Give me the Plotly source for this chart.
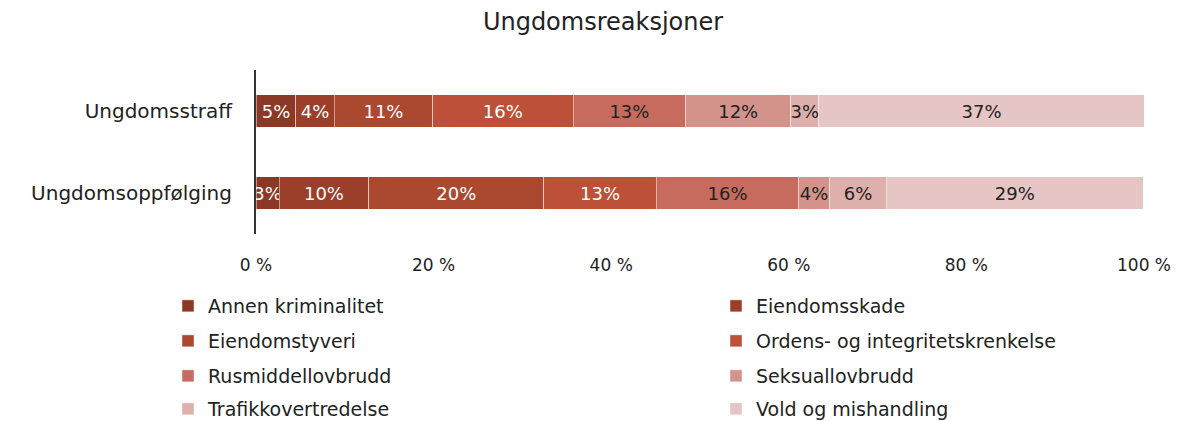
import plotly.graph_objects as go

categories = ["Ungdomsstraff", "Ungdomsoppfølging"]
series_names = ["Annen kriminalitet", "Eiendomsskade", "Eiendomstyveri",
                "Ordens- og integritetskrenkelse", "Rusmiddellovbrudd",
                "Seksuallovbrudd", "Trafikkovertredelse", "Vold og mishandling"]
annen = [4.5, 2.6]
eiendomsskade = [4.3, 10.1]
eiendomstyveri = [11.1, 19.7]
ordens = [15.8, 12.7]
rusmiddel = [12.7, 16.0]
seksual = [11.8, 3.5]
trafikk = [3.2, 6.4]
vold = [36.6, 28.9]
labels = [["5%", "3%"], ["4%", "10%"], ["11%", "20%"], ["16%", "13%"],
          ["13%", "16%"], ["12%", "4%"], ["3%", "6%"], ["37%", "29%"]]
tick_vals = [0, 20, 40, 60, 80, 100]
tick_text = ["0 %", "20 %", "40 %", "60 %", "80 %", "100 %"]

values = [annen, eiendomsskade, eiendomstyveri, ordens, rusmiddel, seksual, trafikk, vold]
colors = ["#8C3826", "#9B3E2A", "#AA4830", "#BC5038", "#C66B5E", "#D3928A", "#DDB0AB", "#E6C6C4"]
text_colors = ["white", "white", "white", "white", "#222222", "#222222", "#222222", "#222222"]

FONT = "DejaVu Sans"

fig = go.Figure()
for i, (name, vals) in enumerate(zip(series_names, values)):
    fig.add_trace(go.Bar(
        y=categories, x=vals, name=name, orientation="h",
        marker=dict(color=colors[i], line=dict(color="rgba(255,255,255,0.45)", width=1)),
        text=labels[i], textposition="inside", insidetextanchor="middle",
        textfont=dict(color=text_colors[i], size=18, family=FONT),
        constraintext="none", textangle=0,
        legend="legend" if i == 0 else f"legend{i+1}",
        hoverinfo="x+name",
    ))

layout_legends = {}
col_x = [168 / 1183, 716 / 1183]
row_y = [306, 341, 376, 409]
for i in range(8):
    key = "legend" if i == 0 else f"legend{i+1}"
    r, c = divmod(i, 2)
    layout_legends[key] = dict(
        xref="container", yref="container",
        x=col_x[c], y=1 - row_y[r] / 421, xanchor="left", yanchor="middle",
        font=dict(size=19, family=FONT, color="#222222"),
        bgcolor="rgba(0,0,0,0)",
    )

fig.update_layout(
    barmode="stack", bargap=0.6,
    width=1183, height=421,
    margin=dict(l=256, r=39, t=70, b=187, autoexpand=False),
    paper_bgcolor="white", plot_bgcolor="white",
    font=dict(family=FONT, color="#222222"),
    title=dict(text="Ungdomsreaksjoner", x=603 / 1183, xanchor="center",
               y=1 - 22 / 421, yanchor="middle", xref="container", yref="container",
               font=dict(size=24, family=FONT, color="#222222")),
    uniformtext=dict(minsize=18, mode="show"),
    showlegend=True,
    **layout_legends,
)
fig.update_xaxes(range=[0, 100], tickvals=tick_vals, ticktext=tick_text,
                 showgrid=False, zeroline=False, showline=False, automargin=False,
                 ticks="outside", ticklen=16, tickcolor="rgba(0,0,0,0)", tickangle=0,
                 tickfont=dict(size=17, family=FONT, color="#222222"))
fig.update_yaxes(categoryorder="array", categoryarray=categories, autorange="reversed",
                 showgrid=False, zeroline=False, showline=True, linecolor="#333333", linewidth=2,
                 ticks="outside", ticklen=18, tickcolor="rgba(0,0,0,0)", automargin=False,
                 tickfont=dict(size=20, family=FONT, color="#222222"))

fig.write_html("out.html", config={"displayModeBar": False},
               post_script="document.body.style.margin='0';")
